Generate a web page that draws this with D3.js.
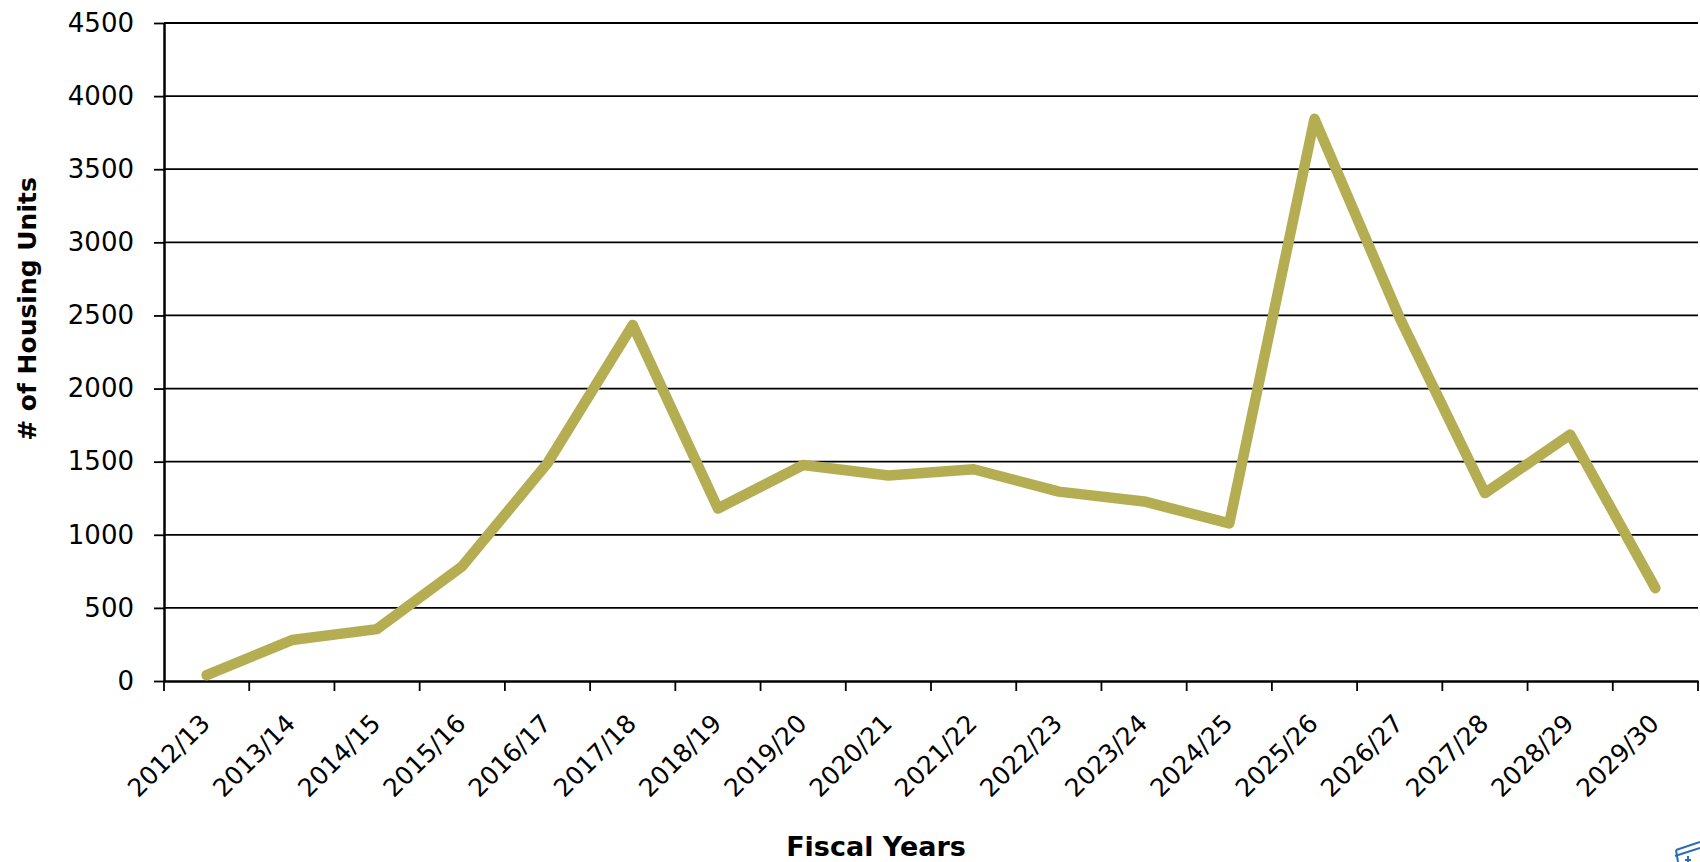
<!DOCTYPE html>
<html>
<head>
<meta charset="utf-8">
<script src="https://cdn.jsdelivr.net/npm/d3@7"></script>
<style>
  body { margin: 0; background: #fff; }
  text { font-family: "DejaVu Sans", sans-serif; fill: #000; }
</style>
</head>
<body>
<div id="chart"></div>
<script>
// data
var years = ["2012/13", "2013/14", "2014/15", "2015/16", "2016/17", "2017/18",
             "2018/19", "2019/20", "2020/21", "2021/22", "2022/23", "2023/24",
             "2024/25", "2025/26", "2026/27", "2027/28", "2028/29", "2029/30"];
var units = [40, 280, 355, 785, 1490, 2435, 1180, 1477, 1405, 1448, 1295, 1228,
             1078, 3845, 2483, 1285, 1685, 635];
var yTicks = [0, 500, 1000, 1500, 2000, 2500, 3000, 3500, 4000, 4500];

var data = years.map(function(d, i) { return {year: d, value: units[i]}; });

// dimensions
var margin = {top: 23, right: 2, bottom: 181, left: 164},
    width = 1700 - margin.left - margin.right,
    height = 862 - margin.top - margin.bottom;

var svg = d3.select("#chart")
  .append("svg")
    .attr("width", 1700)
    .attr("height", 862)
  .append("g")
    .attr("transform", "translate(" + margin.left + "," + margin.top + ")");

// scales
var x = d3.scaleBand()
  .domain(years)
  .range([0, width]);

var y = d3.scaleLinear()
  .domain([0, 4500])
  .range([height, 0]);

// gridlines
svg.append("g")
  .selectAll("line")
  .data(yTicks.filter(function(d) { return d > 0; }))
  .enter()
  .append("line")
    .attr("x1", 0)
    .attr("x2", width)
    .attr("y1", function(d) { return y(d); })
    .attr("y2", function(d) { return y(d); })
    .attr("stroke", "#000")
    .attr("stroke-width", 1.8);

// Y axis
var yAxis = svg.append("g")
  .call(d3.axisLeft(y).tickValues(yTicks).tickFormat(d3.format("d"))
    .tickSize(10).tickPadding(20).tickSizeOuter(0));
yAxis.select(".domain").attr("stroke-width", 2.5);
yAxis.selectAll(".tick line").attr("stroke-width", 1.8);
yAxis.selectAll("text")
  .style("font-family", "DejaVu Sans")
  .style("font-size", "26px");

// X axis: labels centered on the bands, ticks on the band edges
var xAxis = svg.append("g")
  .attr("transform", "translate(0," + height + ")")
  .call(d3.axisBottom(x).tickSize(0).tickSizeOuter(0));
xAxis.select(".domain").attr("stroke-width", 2.5);
xAxis.selectAll("text")
  .style("font-family", "DejaVu Sans")
  .style("font-size", "25px")
  .style("text-anchor", "end")
  .attr("x", 0)
  .attr("y", 0)
  .attr("dy", 0)
  .attr("transform", "translate(5,44)rotate(-45)");

var edges = years.map(function(d) { return x(d); }).concat([width]);
xAxis.selectAll(".edge")
  .data(edges)
  .enter()
  .append("line")
    .attr("class", "edge")
    .attr("x1", function(d) { return d; })
    .attr("x2", function(d) { return d; })
    .attr("y1", 0)
    .attr("y2", 10)
    .attr("stroke", "#000")
    .attr("stroke-width", 1.8);

// the line
var line = d3.line()
  .x(function(d) { return x(d.year) + x.bandwidth() / 2; })
  .y(function(d) { return y(d.value); });

svg.append("path")
  .datum(data)
  .attr("d", line)
  .attr("fill", "none")
  .attr("stroke", "#b5ad52")
  .attr("stroke-width", 10.5)
  .attr("stroke-linejoin", "round")
  .attr("stroke-linecap", "round");

// axis titles
svg.append("text")
  .attr("transform", "rotate(-90)")
  .attr("x", -(309 - margin.top))
  .attr("y", -margin.left + 36)
  .attr("text-anchor", "middle")
  .style("font-weight", "bold")
  .style("font-size", "25px")
  .text("# of Housing Units");

svg.append("text")
  .attr("x", 876 - margin.left)
  .attr("y", 856 - margin.top)
  .attr("text-anchor", "middle")
  .style("font-weight", "bold")
  .style("font-size", "27px")
  .text("Fiscal Years");

// corner logo fragment
d3.select("svg").append("path")
  .attr("d", "M1676,850 L1700,842 M1675,856 L1700,848 M1676,850 L1678,862 M1688,856 L1688,862 M1685,860 L1691,860")
  .attr("fill", "none")
  .attr("stroke", "#2a6db5")
  .attr("stroke-width", 2);
</script>
</body>
</html>
